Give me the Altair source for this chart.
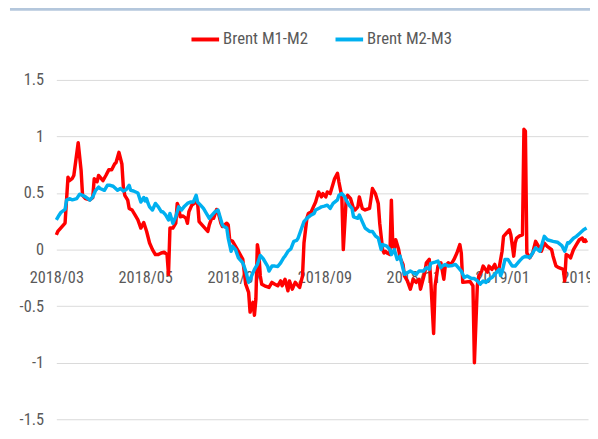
import altair as alt
import pandas as pd

# Day offsets from 2018-03-01 and values
red_days = [0,1,3,6,8,9,11,12,15,17,18,20,23,25,26,28,29,32,34,36,38,40,41,43,45,46,47,49,50,52,54,56,58,60,62,64,66,68,70,72,74,76,77,78,80,82,83,84,85,87,89,90,91,93,96,97,98,100,102,104,105,107,108,110,111,113,114,117,118,119,121,123,125,128,130,132,133,135,136,137,138,139,140,141,143,146,148,150,152,154,155,157,159,160,162,164,165,167,169,170,172,173,175,177,178,180,182,183,185,186,188,190,191,193,194,196,197,199,200,202,204,205,207,208,210,212,215,216,217,219,221,222,224,225,226,227,229,230,231,232,233,235,236,238,239,241,243,245,247,249,250,253,254,256,257,259,260,262,264,266,267,269,271,273,275,277,278,279,284,286,287,289,290,292,293,296,297,299,301,302,304,306,307,310,311,312,314,315,316,318,320,321,322,323,325,327,329,331,333,335,337,340,341,343,345,348,349,350,352,353,355,357,359,361,362,363,364]
red_vals = [0.13,0.16,0.19,0.235,0.64,0.61,0.63,0.655,0.945,0.70,0.48,0.45,0.44,0.46,0.626,0.60,0.655,0.61,0.655,0.705,0.705,0.757,0.77,0.86,0.757,0.553,0.48,0.437,0.364,0.35,0.306,0.262,0.19,0.24,0.16,0.058,0.0,-0.044,-0.044,-0.03,-0.023,-0.044,-0.22,0.19,0.19,0.233,0.408,0.378,0.29,0.297,0.277,0.233,0.335,0.393,0.42,0.408,0.247,0.218,0.19,0.16,0.218,0.29,0.277,0.355,0.335,0.233,0.204,0.233,0.218,0.087,0.073,0.029,-0.015,-0.087,-0.306,-0.378,-0.553,-0.466,-0.58,-0.437,0.044,-0.03,-0.233,-0.306,-0.32,-0.335,-0.29,-0.306,-0.32,-0.277,-0.32,-0.262,-0.364,-0.277,-0.35,-0.29,-0.306,-0.335,-0.233,0.058,0.277,0.32,0.335,0.393,0.42,0.51,0.466,0.495,0.466,0.51,0.495,0.582,0.626,0.675,0.597,0.466,0.0,0.45,0.48,0.45,0.364,0.35,0.378,0.466,0.364,0.35,0.364,0.45,0.54,0.495,0.408,0.233,0.0,-0.03,-0.015,-0.03,-0.044,0.437,0.029,0.015,0.087,0.0,-0.073,-0.131,-0.233,-0.277,-0.35,-0.262,-0.29,-0.262,-0.35,-0.2,-0.117,-0.087,-0.262,-0.742,-0.32,-0.146,-0.117,-0.262,-0.146,-0.117,-0.131,-0.087,-0.03,0.044,-0.03,-0.29,-0.282,-0.32,-1.0,-0.32,-0.233,-0.19,-0.146,-0.2,-0.146,-0.175,-0.131,-0.175,-0.16,-0.015,0.117,0.16,0.175,0.131,-0.058,0.058,0.102,0.122,0.131,1.063,1.048,-0.03,-0.073,-0.03,0.073,0.029,-0.015,0.058,0.029,0.0,-0.058,-0.146,-0.16,-0.175,-0.277,-0.044,-0.058,-0.073,0.0,0.044,0.087,0.102,0.073,0.087,0.06]

blue_days = [0,2,3,6,7,9,11,14,16,18,20,23,25,27,29,30,33,35,37,39,42,44,46,48,50,51,53,56,58,60,61,62,63,64,66,68,70,72,73,75,77,78,80,82,84,86,88,90,92,94,96,97,99,101,103,105,107,109,111,112,114,115,117,118,120,121,123,125,128,130,132,134,136,138,140,142,145,146,148,150,152,154,156,157,159,161,163,165,166,168,170,172,175,177,178,181,182,184,186,188,190,193,194,196,198,199,201,203,204,207,208,210,212,215,217,219,221,223,224,226,227,229,230,232,234,236,237,239,241,243,245,247,249,252,254,256,257,260,262,264,265,267,269,272,274,276,278,280,282,285,287,289,291,293,295,297,299,301,304,305,306,308,310,313,315,318,320,322,325,327,329,332,333,335,337,341,344,347,349,351,352,355,357,359,362,364]
blue_vals = [0.262,0.306,0.326,0.355,0.437,0.45,0.44,0.45,0.49,0.48,0.466,0.437,0.466,0.524,0.553,0.54,0.524,0.568,0.568,0.56,0.524,0.54,0.518,0.53,0.568,0.524,0.518,0.5,0.42,0.46,0.43,0.45,0.408,0.378,0.35,0.408,0.378,0.335,0.335,0.306,0.262,0.32,0.233,0.29,0.378,0.35,0.384,0.408,0.42,0.42,0.48,0.42,0.393,0.364,0.32,0.277,0.306,0.335,0.35,0.306,0.218,0.204,0.19,0.102,-0.015,0.029,0.0,-0.073,-0.117,-0.19,-0.29,-0.233,-0.175,-0.131,-0.052,-0.081,-0.146,-0.19,-0.146,-0.146,-0.15,-0.117,-0.073,-0.058,-0.015,0.006,0.073,0.081,0.102,0.175,0.247,0.277,0.306,0.32,0.35,0.37,0.378,0.384,0.393,0.364,0.408,0.44,0.48,0.495,0.466,0.437,0.393,0.364,0.29,0.277,0.306,0.247,0.19,0.16,0.16,0.122,0.102,0.0,0.044,0.035,0.029,0.0,-0.044,0.0,-0.087,-0.058,-0.117,-0.218,-0.204,-0.19,-0.204,-0.218,-0.19,-0.19,-0.16,-0.175,-0.122,-0.111,-0.102,-0.16,-0.146,-0.131,-0.146,-0.14,-0.131,-0.16,-0.19,-0.247,-0.233,-0.256,-0.256,-0.277,-0.306,-0.277,-0.29,-0.262,-0.247,-0.218,-0.175,-0.23,-0.2,-0.087,-0.087,-0.146,-0.146,-0.1,-0.073,-0.058,-0.07,-0.03,0.015,-0.015,0.029,0.117,0.087,0.073,0.065,0.035,-0.015,0.06,0.058,0.1,0.117,0.14,0.175,0.19]

series_names = ["Brent M1-M2", "Brent M2-M3"]
series_colors = ["#FF0000", "#00B0F0"]
y_ticks = [-1.5, -1.0, -0.5, 0.0, 0.5, 1.0, 1.5]
x_tick_months = [(2018, 3), (2018, 5), (2018, 7), (2018, 9), (2018, 11), (2019, 1), (2019, 3)]

start = pd.Timestamp("2018-03-01")
df = pd.concat([
    pd.DataFrame({"date": start + pd.to_timedelta(red_days, unit="D"),
                  "value": red_vals, "series": series_names[0], "k": 0}),
    pd.DataFrame({"date": start + pd.to_timedelta(blue_days, unit="D"),
                  "value": blue_vals, "series": series_names[1], "k": 1}),
], ignore_index=True)

FONT = "Liberation Sans Narrow, Roboto Condensed, DejaVu Sans Condensed, sans-serif"
W, H = 539, 344

lines = alt.Chart(df).mark_line(strokeWidth=3.5, strokeJoin="round").encode(
    x=alt.X("date:T",
            scale=alt.Scale(domain=[alt.DateTime(year=2018, month=3, date=1),
                                    alt.DateTime(year=2019, month=3, date=1)]),
            axis=alt.Axis(title=None, format="%Y/%m", grid=False, domain=False, ticks=False,
                          values=[alt.DateTime(year=y, month=m, date=1) for y, m in x_tick_months],
                          offset=-H / 2, labelPadding=20, labelFontSize=16.5, labelFont=FONT,
                          labelColor="#595959", labelOverlap=False, labelFlush=False)),
    y=alt.Y("value:Q",
            scale=alt.Scale(domain=[-1.5, 1.5], nice=False, zero=False),
            axis=alt.Axis(title=None, values=y_ticks, labelExpr="toString(datum.value)",
                          domain=False, ticks=False, grid=True, gridColor="#D9D9D9", gridWidth=1,
                          labelPadding=13, labelFontSize=16.5, labelFont=FONT,
                          labelColor="#595959")),
    color=alt.Color("series:N", scale=alt.Scale(domain=series_names, range=series_colors),
                    legend=alt.Legend(title=None, orient="none", legendX=135, legendY=-57,
                                      direction="horizontal", symbolType="stroke",
                                      symbolSize=784, symbolStrokeWidth=4, labelFontSize=17,
                                      labelFont=FONT, labelColor="#595959", labelOffset=2,
                                      columnPadding=19, padding=0)),
    order=alt.Order("k:Q"),
)

top_rule = alt.Chart(pd.DataFrame({"a": [0]})).mark_rule(
    color="#B4C7DC", strokeWidth=4
).encode(x=alt.value(-47), x2=alt.value(541), y=alt.value(-72))

chart = alt.layer(top_rule, lines).properties(
    width=W, height=H,
    autosize=alt.AutoSizeParams(type="none"),
    padding={"left": 49, "top": 70, "right": 2, "bottom": 9},
).configure_view(stroke=None)

chart.save("out.html", embed_options={"renderer": "svg", "actions": False})
